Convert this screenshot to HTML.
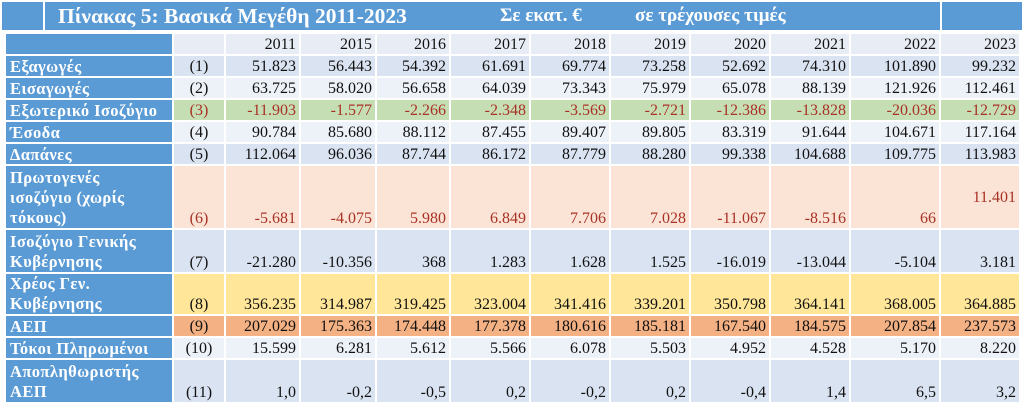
<!DOCTYPE html>
<html><head><meta charset="utf-8"><style>
body{margin:0;width:1024px;height:405px;background:#fff;overflow:hidden;font-family:"Liberation Serif",serif;}
.tb{position:absolute;top:2px;height:28px;background:#5b9bd5;color:#fff;font-weight:bold;}
table{position:absolute;left:4px;top:32px;border-collapse:separate;border-spacing:2px;table-layout:fixed;}
td{padding:0 3px 0 0;font-size:16px;text-align:right;vertical-align:bottom;line-height:19px;color:#111;background:#dae3f1;white-space:nowrap;}
td.l{background:#5b9bd5;color:#fff;font-weight:bold;text-align:left;padding-left:4px;font-size:16.5px;letter-spacing:0.4px;}
td.c{text-align:center;padding:0;}
tr.lt td{background:#edf1f8;}
tr.g td{background:#c6deb4;color:#a83226;}
tr.p td{background:#fbe4d6;color:#a83226;}
tr.y td{background:#ffe699;}
tr.o td{background:#f4b183;}
tr.h td{background:#e8edf5;}
tr td.l{background:#5b9bd5;color:#fff;}
</style></head><body>
<div class="tb" style="left:2px;width:41px"></div>
<div class="tb" style="left:45px;width:895px;font-size:21.5px;line-height:28px">
<span style="position:absolute;left:13px">Πίνακας 5: Βασικά Μεγέθη 2011-2023</span>
<span style="position:absolute;left:455px;font-size:19px">Σε εκατ. €</span>
<span style="position:absolute;left:590px;font-size:19px">σε τρέχουσες τιμές</span>
</div>
<div class="tb" style="left:942px;width:80px"></div>
<table>
<colgroup><col style="width:166px"><col style="width:50px"><col style="width:73px"><col style="width:74px"><col style="width:72px"><col style="width:78px"><col style="width:78px"><col style="width:78px"><col style="width:78px"><col style="width:78px"><col style="width:88px"><col style="width:78px"></colgroup>
<tr class="h" style="height:20px"><td class="l"></td><td></td><td>2011</td><td>2015</td><td>2016</td><td>2017</td><td>2018</td><td>2019</td><td>2020</td><td>2021</td><td>2022</td><td>2023</td></tr>
<tr style="height:20px"><td class="l">Εξαγωγές</td><td class="c">(1)</td><td>51.823</td><td>56.443</td><td>54.392</td><td>61.691</td><td>69.774</td><td>73.258</td><td>52.692</td><td>74.310</td><td>101.890</td><td>99.232</td></tr>
<tr class="lt" style="height:20px"><td class="l">Εισαγωγές</td><td class="c">(2)</td><td>63.725</td><td>58.020</td><td>56.658</td><td>64.039</td><td>73.343</td><td>75.979</td><td>65.078</td><td>88.139</td><td>121.926</td><td>112.461</td></tr>
<tr class="g" style="height:20px"><td class="l">Εξωτερικό Ισοζύγιο</td><td class="c">(3)</td><td>-11.903</td><td>-1.577</td><td>-2.266</td><td>-2.348</td><td>-3.569</td><td>-2.721</td><td>-12.386</td><td>-13.828</td><td>-20.036</td><td>-12.729</td></tr>
<tr class="lt" style="height:20px"><td class="l">Έσοδα</td><td class="c">(4)</td><td>90.784</td><td>85.680</td><td>88.112</td><td>87.455</td><td>89.407</td><td>89.805</td><td>83.319</td><td>91.644</td><td>104.671</td><td>117.164</td></tr>
<tr style="height:20px"><td class="l">Δαπάνες</td><td class="c">(5)</td><td>112.064</td><td>96.036</td><td>87.744</td><td>86.172</td><td>87.779</td><td>88.280</td><td>99.338</td><td>104.688</td><td>109.775</td><td>113.983</td></tr>
<tr class="p" style="height:62px"><td class="l" style="line-height:20px">Πρωτογενές<br>ισοζύγιο (χωρίς<br>τόκους)</td><td class="c">(6)</td><td>-5.681</td><td>-4.075</td><td>5.980</td><td>6.849</td><td>7.706</td><td>7.028</td><td>-11.067</td><td>-8.516</td><td>66</td><td style="vertical-align:middle">11.401</td></tr>
<tr style="height:42px"><td class="l" style="line-height:20px">Ισοζύγιο Γενικής<br>Κυβέρνησης</td><td class="c">(7)</td><td>-21.280</td><td>-10.356</td><td>368</td><td>1.283</td><td>1.628</td><td>1.525</td><td>-16.019</td><td>-13.044</td><td>-5.104</td><td>3.181</td></tr>
<tr class="y" style="height:40px"><td class="l" style="line-height:20px">Χρέος Γεν.<br>Κυβέρνησης</td><td class="c">(8)</td><td>356.235</td><td>314.987</td><td>319.425</td><td>323.004</td><td>341.416</td><td>339.201</td><td>350.798</td><td>364.141</td><td>368.005</td><td>364.885</td></tr>
<tr class="o" style="height:20px"><td class="l">ΑΕΠ</td><td class="c">(9)</td><td>207.029</td><td>175.363</td><td>174.448</td><td>177.378</td><td>180.616</td><td>185.181</td><td>167.540</td><td>184.575</td><td>207.854</td><td>237.573</td></tr>
<tr class="lt" style="height:20px"><td class="l">Τόκοι Πληρωμένοι</td><td class="c">(10)</td><td>15.599</td><td>6.281</td><td>5.612</td><td>5.566</td><td>6.078</td><td>5.503</td><td>4.952</td><td>4.528</td><td>5.170</td><td>8.220</td></tr>
<tr style="height:42px"><td class="l" style="line-height:20px">Αποπληθωριστής<br>ΑΕΠ</td><td class="c">(11)</td><td>1,0</td><td>-0,2</td><td>-0,5</td><td>0,2</td><td>-0,2</td><td>0,2</td><td>-0,4</td><td>1,4</td><td>6,5</td><td>3,2</td></tr>
</table>
</body></html>
